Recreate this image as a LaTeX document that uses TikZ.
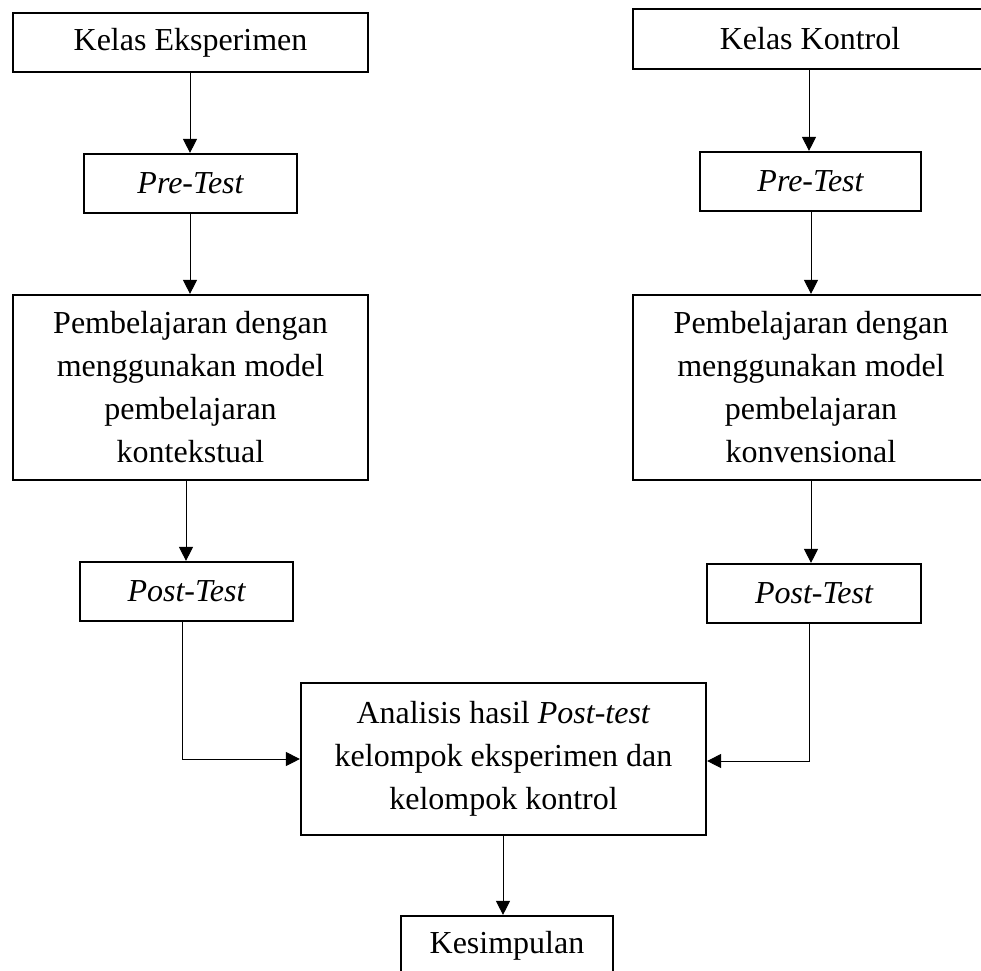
\documentclass[tikz,border=0pt]{standalone}
\usepackage{fontspec}
\setmainfont{Liberation Serif}
\usetikzlibrary{arrows.meta}
\tikzset{
  box/.style={draw, line width=2.2pt, inner sep=0pt, align=center,
    font=\fontsize{32}{43}\selectfont},
  arr/.style={line width=1pt, -{Triangle[length=14pt,width=14pt]}},
}
\begin{document}
\begin{tikzpicture}[x=1pt,y=-1pt]
\useasboundingbox (0,0) rectangle (981,970);
\clip (0,0) rectangle (981,970);
\node[box, minimum width=355pt, minimum height=59pt] (ke) at (190.5,42.5) {Kelas Eksperimen};
\node[box, minimum width=354pt, minimum height=60pt] (kk) at (810,39) {Kelas Kontrol};
\node[box, minimum width=213pt, minimum height=59pt] (pl) at (190.5,183.5) {\itshape Pre-Test};
\node[box, minimum width=221pt, minimum height=59pt] (pr) at (810.5,181.5) {\itshape Pre-Test};
\node[box, minimum width=355pt, minimum height=185pt] (bl) at (190.5,387.5) {Pembelajaran dengan\\menggunakan model\\pembelajaran\\kontekstual};
\node[box, minimum width=356pt, minimum height=185pt] (br) at (811,387.5) {Pembelajaran dengan\\menggunakan model\\pembelajaran\\konvensional};
\node[box, minimum width=213pt, minimum height=59pt] (ol) at (186.5,591.5) {\itshape Post-Test};
\node[box, minimum width=214pt, minimum height=59pt] (or) at (814,593.5) {\itshape Post-Test};
\node[box, minimum width=405pt, minimum height=152pt] (an) at (503.5,759) {Analisis hasil \textit{Post-test}\\kelompok eksperimen dan\\kelompok kontrol};
\node[box, minimum width=212pt, minimum height=59pt] (ks) at (507,945.5) {Kesimpulan};
\coordinate (c1) at (190,0);
\coordinate (c2) at (809,0);
\coordinate (c3) at (811,0);
\coordinate (c4) at (186,0);
\coordinate (c5) at (182,0);
\coordinate (c6) at (503,0);
\draw[arr] (ke.south -| c1) -- (pl.north -| c1);
\draw[arr] (pl.south -| c1) -- (bl.north -| c1);
\draw[arr] (bl.south -| c4) -- (ol.north -| c4);
\draw[arr] (kk.south -| c2) -- (pr.north -| c2);
\draw[arr] (pr.south -| c3) -- (br.north -| c3);
\draw[arr] (br.south -| c3) -- (or.north -| c3);
\draw[arr] (ol.south -| c5) |- (an.west);
\draw[arr] (or.south -| c2) |- ([yshift=-2pt]an.east);
\draw[arr] (an.south -| c6) -- (ks.north -| c6);
\end{tikzpicture}
\end{document}
